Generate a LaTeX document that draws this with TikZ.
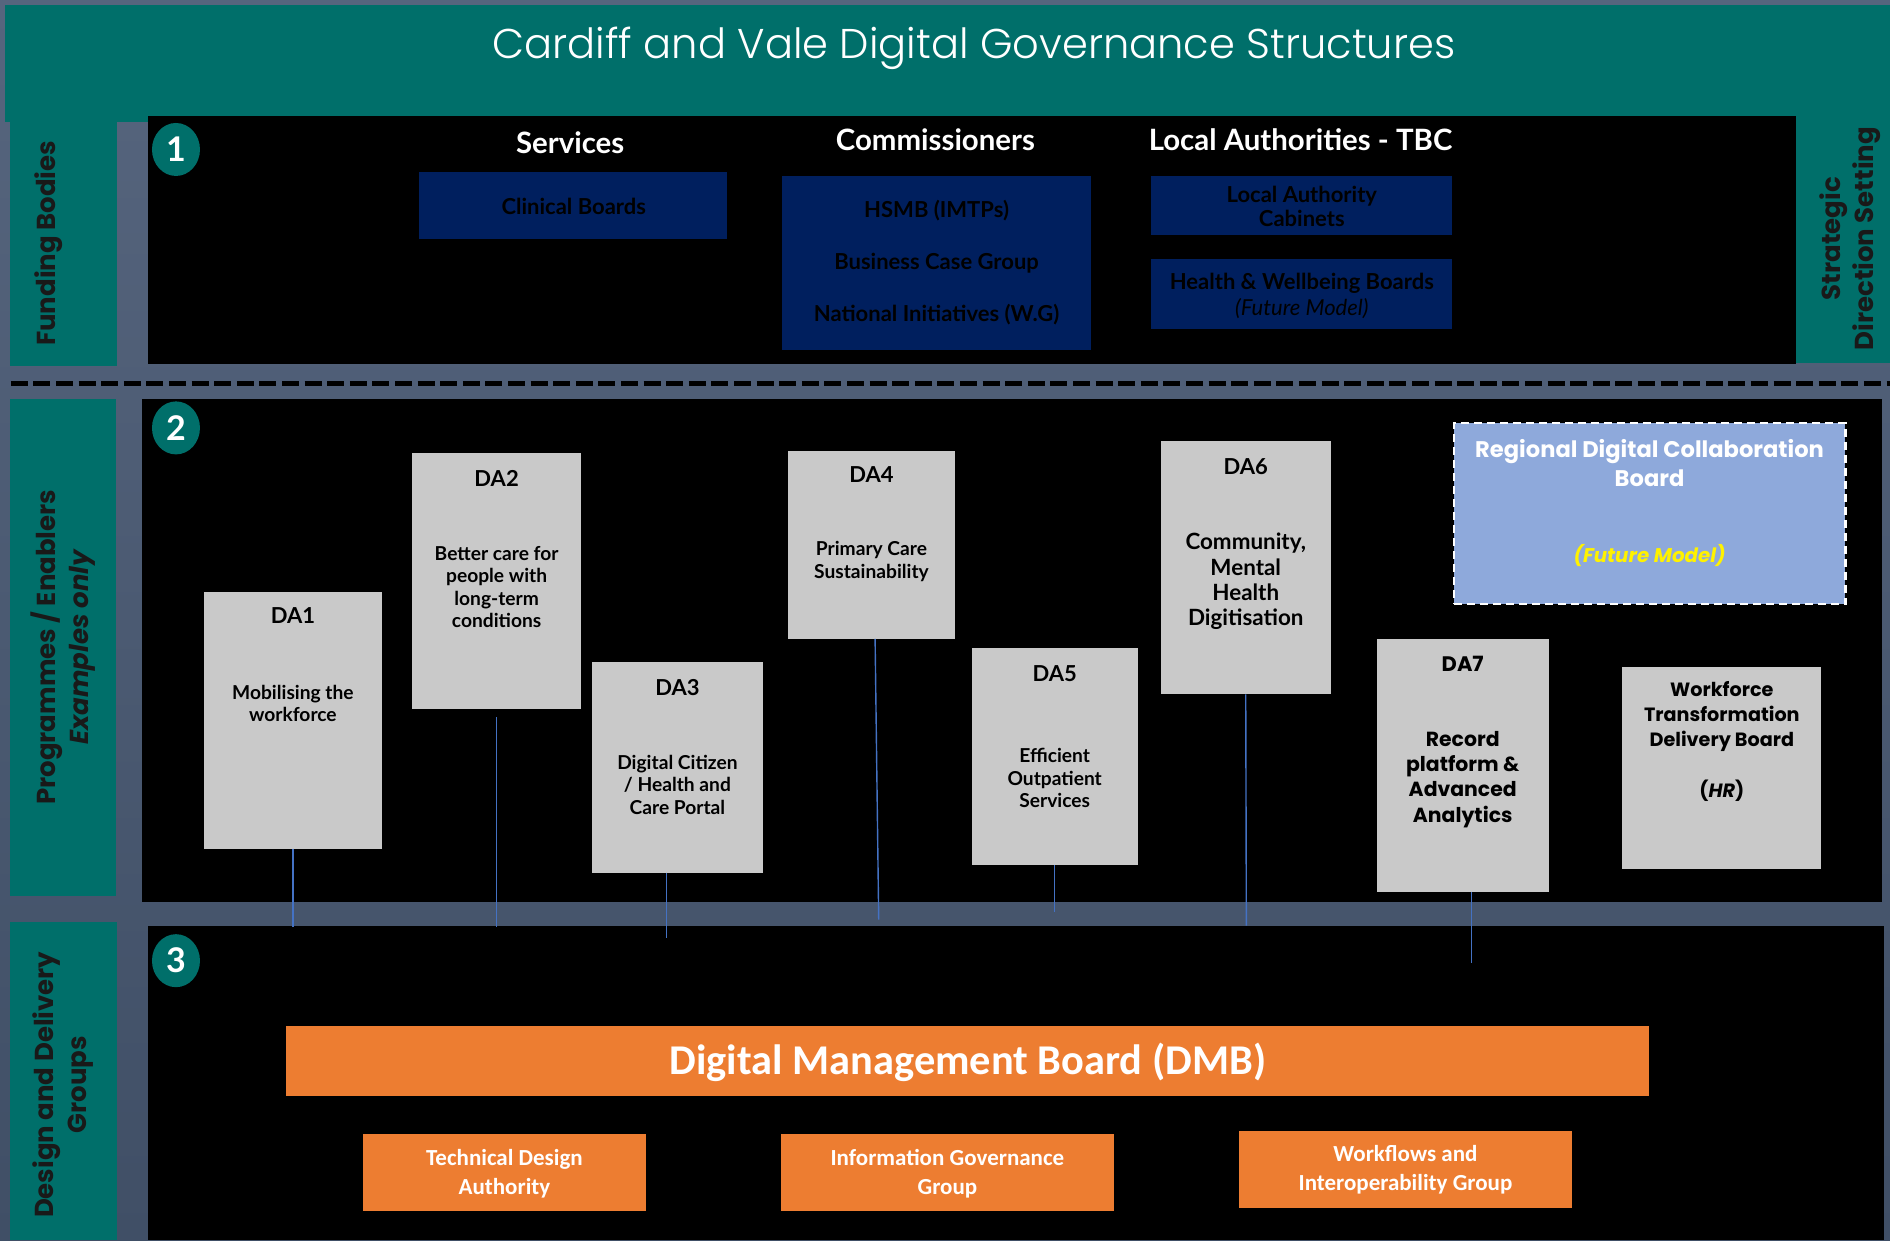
\documentclass[tikz,border=0pt]{standalone}
\usepackage{fontspec}
\setmainfont{Lato}
\newfontfamily\gothic{Poppins}
\newfontfamily\thinfont{Poppins}[UprightFont={* Light}]
\newfontfamily\calib{Carlito}
\usetikzlibrary{fit}
\definecolor{slatetop}{RGB}{86,101,126}
\definecolor{slatebot}{RGB}{64,79,102}
\definecolor{tealc}{RGB}{0,111,106}
\definecolor{navyc}{RGB}{0,31,94}
\definecolor{greyc}{RGB}{201,201,201}
\definecolor{regc}{RGB}{142,169,219}
\definecolor{orangec}{RGB}{237,125,49}
\definecolor{linec}{RGB}{68,114,196}
\definecolor{labelc}{RGB}{25,25,25}
\tikzset{
  box/.style={inner sep=0pt, outer sep=0pt},
  tealbox/.style={box, fill=tealc},
  blackbox/.style={box, fill=black},
  navybox/.style={box, fill=navyc},
  greybox/.style={box, fill=greyc},
  orangebox/.style={box, fill=orangec},
  regbox/.style={box, fill=regc, draw=white, dashed, line width=1.1pt, dash pattern=on 4pt off 2.5pt},
  sidelabel/.style={rotate=90, align=center, text=labelc, font={\gothic\fontsize{13}{16.5}\selectfont\bfseries}},
  numcirc/.style={ellipse, fill=tealc, minimum width=24pt, minimum height=26.5pt, inner sep=0pt, text=white, font={\fontsize{17}{17}\selectfont\bfseries}},
  headtxt/.style={text=white, font={\fontsize{14.7}{17}\selectfont\bfseries}},
  navytxt/.style={align=center, text=black, font={\fontsize{11}{12}\selectfont\bfseries}},
  datitle/.style={text=black, font={\fontsize{11}{13}\selectfont\bfseries}},
  datxt/.style={align=center, text=black, font={\fontsize{9.6}{11.3}\selectfont\bfseries}},
  bigtxt/.style={align=center, text=black, font={\gothic\fontsize{10.2}{12.7}\selectfont\bfseries}},
  orangetxt/.style={align=center, text=white, font={\calib\fontsize{11.5}{14.5}\selectfont\bfseries}},
  conn/.style={draw=linec, line width=0.7pt},
}
\usetikzlibrary{shapes.geometric}
\begin{document}
\begin{tikzpicture}[x=0.6027pt,y=-0.6027pt]
\useasboundingbox (0,0) rectangle (1568,1029);
% background
\shade[top color=slatetop, bottom color=slatebot] (0,0) rectangle (1568,1029);
% header
\node[tealbox, fit={(4,4) (1568,101)}] (header) {};
\node[text=white, font={\thinfont\fontsize{20.8}{24}\selectfont}] (title) at (808,40) {Cardiff and Vale Digital Governance Structures};
% section 1
\node[tealbox, fit={(8,101) (97,304)}] (fundcol) {};
\node[tealbox, fit={(1490,96) (1568,301)}] (stratcol) {};
\node[blackbox, fit={(123,96) (1490,302)}] (panel1) {};
\node[sidelabel] (fundlbl) at (40,202) {Funding Bodies};
\node[sidelabel] (stratlbl) at (1535,198) {Strategic\\Direction Setting};
\node[numcirc] (n1) at (146,124) {1};
\node[headtxt] (hserv) at (473,118) {Services};
\node[headtxt] (hcomm) at (776,116) {Commissioners};
\node[headtxt] (hla) at (1079,116) {Local Authorities - TBC};
\node[navybox, fit={(348,143) (603,198)}] (clin) {};
\node[navytxt] (clintxt) at (476,171) {Clinical Boards};
\node[navybox, fit={(649,146) (905,290)}] (comm) {};
\node[navytxt, font={\fontsize{11}{26}\selectfont\bfseries}] (commtxt) at (777,218) {HSMB (IMTPs)\\Business Case Group\\National Initiatives (W.G)};
\node[navybox, fit={(955,146) (1205,195)}] (lacab) {};
\node[navytxt] (lacabtxt) at (1080,171) {Local Authority\\Cabinets};
\node[navybox, fit={(955,215) (1205,273)}] (hwb) {};
\node[navytxt, font={\fontsize{11}{12.7}\selectfont}] (hwbtxt) at (1080,245.5) {\bfseries Health \& Wellbeing Boards\\\itshape (Future Model)};
% dashed separator
\coordinate (dashl) at (9,318);
\coordinate (dashr) at (1568,318);
\draw[line width=2.5pt, dash pattern=on 8.5pt off 2.8pt] (dashl) -- (dashr);
% section 2
\node[tealbox, fit={(8,331) (96,743)}] (progcol) {};
\node[blackbox, fit={(118,331) (1561,748)}] (panel2) {};
\node[sidelabel] (proglbl) at (52,537) {Programmes / Enablers\\\itshape Examples only};
\node[numcirc] (n2) at (146,355) {2};
% section 3
\node[tealbox, fit={(8,765) (97,1029)}] (designcol) {};
\node[blackbox, fit={(123,768) (1563,1029)}] (panel3) {};
\node[sidelabel] (designlbl) at (52,900) {Design and Delivery\\Groups};
\node[numcirc] (n3) at (146,797) {3};
% DA boxes
\node[greybox, fit={(169,491) (317,704)}] (da1) {};
\node[datitle] (da1t) at (243,511) {DA1};
\node[datxt] (da1x) at (243,583.5) {Mobilising the\\workforce};
\node[greybox, fit={(342,376) (482,588)}] (da2) {};
\node[datitle] (da2t) at (412,397) {DA2};
\node[datxt] (da2x) at (412,487) {Better care for\\people with\\long-term\\conditions};
\node[greybox, fit={(491,549) (633,724)}] (da3) {};
\node[datitle] (da3t) at (562,570) {DA3};
\node[datxt] (da3x) at (562,651) {Digital Citizen\\/ Health and\\Care Portal};
\node[greybox, fit={(654,374) (792,530)}] (da4) {};
\node[datitle] (da4t) at (723,394) {DA4};
\node[datxt] (da4x) at (723,466) {Primary Care\\Sustainability};
\node[greybox, fit={(806,538) (944,718)}] (da5) {};
\node[datitle] (da5t) at (875,559) {DA5};
\node[datxt] (da5x) at (875,645.5) {Efficient\\Outpatient\\Services};
\node[greybox, fit={(963,366) (1104,576)}] (da6) {};
\node[datitle] (da6t) at (1033.5,387) {DA6};
\node[datxt, font={\fontsize{11.2}{12.7}\selectfont\bfseries}] (da6x) at (1033.5,482.5) {Community,\\Mental\\Health\\Digitisation};
\node[greybox, fit={(1142,530) (1285,740)}] (da7) {};
\node[datitle, font={\gothic\fontsize{10.5}{13}\selectfont\bfseries}] (da7t) at (1213.5,551) {DA7};
\node[bigtxt] (da7x) at (1213.5,646.5) {Record\\platform \&\\Advanced\\Analytics};
\node[greybox, fit={(1346,553) (1511,721)}] (wtdb) {};
\node[bigtxt, font={\gothic\fontsize{9.6}{12.7}\selectfont\bfseries}] (wtdbx) at (1428.5,615) {Workforce\\Transformation\\Delivery Board\\[12.7pt](\textit{HR})};
\node[regbox, fit={(1206,351) (1531,501)}] (rdcb) {};
\node[align=center, text=white, font={\gothic\fontsize{11.3}{14.5}\selectfont\bfseries}] (rdcbx) at (1368.5,384) {Regional Digital Collaboration\\Board};
\node[text=yellow, font={\gothic\fontsize{9.9}{14.5}\selectfont\bfseries\itshape}] (rdcbf) at (1368.5,461) {(Future Model)};
% section 3 boxes
\node[orangebox, fit={(237,851) (1368,909)}] (dmb) {};
\node[text=white, font={\calib\fontsize{21.2}{24}\selectfont\bfseries}] (dmbx) at (803,881) {Digital Management Board (DMB)};
\node[orangebox, fit={(301,941) (536,1005)}] (tda) {};
\node[orangetxt] (tdax) at (418.5,974) {Technical Design\\Authority};
\node[orangebox, fit={(648,941) (924,1005)}] (igg) {};
\node[orangetxt] (iggx) at (786,974) {Information Governance\\Group};
\node[orangebox, fit={(1028,938) (1304,1002)}] (wig) {};
\node[orangetxt] (wigx) at (1166,970.5) {Workflows and\\Interoperability Group};
% connectors
\coordinate (e1) at (243,769);
\coordinate (s2) at (412,595);
\coordinate (e2) at (412,769);
\coordinate (e3) at (553,778);
\coordinate (s3) at (553,724);
\coordinate (s4) at (726,530);
\coordinate (e4) at (729,763);
\coordinate (e5) at (875,757);
\coordinate (e6) at (1034,768);
\coordinate (s7) at (1221,740);
\coordinate (e7) at (1221,799);
\draw[conn] (da1.south) -- (e1);
\draw[conn] (s2) -- (e2);
\draw[conn] (s3) -- (e3);
\draw[conn] (s4) -- (e4);
\draw[conn] (da5.south) -- (e5);
\draw[conn] (da6.south) -- (e6);
\draw[conn] (s7) -- (e7);
\end{tikzpicture}
\end{document}
